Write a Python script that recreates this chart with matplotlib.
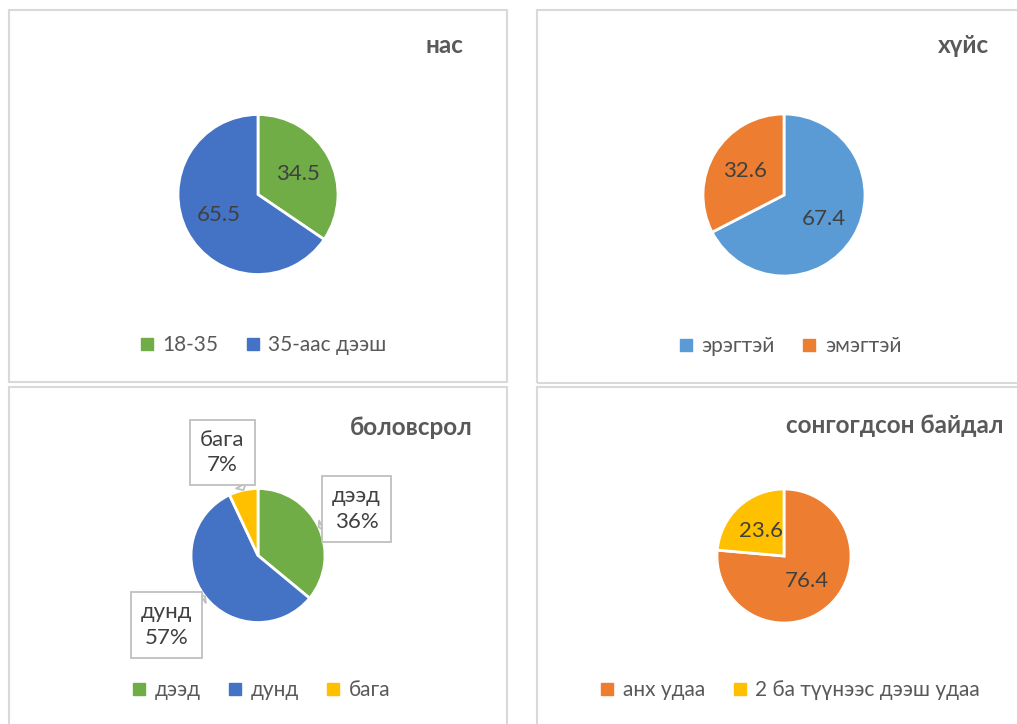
import numpy as np
import matplotlib.pyplot as plt
from matplotlib.lines import Line2D
from matplotlib.patches import Rectangle

plt.rcParams['font.family'] = ['Lato', 'DejaVu Sans']

# нас
age_labels = ['18-35', '35-аас дээш']
age_values = [34.5, 65.5]
# хүйс
sex_labels = ['эрэгтэй', 'эмэгтэй']
sex_values = [67.4, 32.6]
# боловсрол
edu_labels = ['дээд', 'дунд', 'бага']
edu_values = [36, 57, 7]
# сонгогдсон байдал
elect_labels = ['анх удаа', '2 ба түүнээс дээш удаа']
elect_values = [76.4, 23.6]

titles = ['нас', 'хүйс', 'боловсрол', 'сонгогдсон байдал']

GREEN, BLUE, LBLUE, ORANGE, GOLD = '#70AD47', '#4472C4', '#5B9BD5', '#ED7D31', '#FFC000'

W, H = 1017, 724
fig = plt.figure(figsize=(W / 100, H / 100), dpi=100)
ax = fig.add_axes([0, 0, 1, 1])

def Y(y):
    return H - y

# layout in image pixels
panels = [
    dict(labels=age_labels, values=age_values, colors=[GREEN, BLUE],
         box=(9, 10, 507, 382), center=(258, 194.5), r=80,
         title_xy=(463, 53), legend_xy=(263, 345), pctdist=0.56),
    dict(labels=sex_labels, values=sex_values, colors=[LBLUE, ORANGE],
         box=(537, 10, 1030, 383), center=(784, 195), r=81,
         title_xy=(989, 53), legend_xy=(790, 346), pctdist=0.57),
    dict(labels=edu_labels, values=edu_values, colors=[GREEN, BLUE, GOLD],
         box=(9, 387, 507, 740), center=(258, 555.5), r=67,
         title_xy=(473, 435), legend_xy=(261, 690), pctdist=None),
    dict(labels=elect_labels, values=elect_values, colors=[ORANGE, GOLD],
         box=(537, 387, 1030, 740), center=(784, 556), r=67,
         title_xy=(1003, 433), legend_xy=(790, 690), pctdist=0.5),
]

# callout box offsets for the education pie (in radius units)
callout_offsets = [(1.47, 0.69), (-1.37, -1.04), (-0.53, 1.54)]

for i, p in enumerate(panels):
    x0, y0, x1, y1 = p['box']
    ax.add_patch(Rectangle((x0, Y(y1)), x1 - x0, y1 - y0, fill=False,
                           ec='#D9D9D9', lw=1.5))
    cx, cy = p['center'][0], Y(p['center'][1])
    r = p['r']
    kw = dict(startangle=90, counterclock=False, center=(cx, cy), radius=r,
              colors=p['colors'], frame=True,
              wedgeprops=dict(edgecolor='white', linewidth=2))
    if p['pctdist'] is not None:
        wedges, texts, autotexts = ax.pie(p['values'], autopct=lambda v: f'{v:.1f}',
                                          pctdistance=p['pctdist'],
                                          textprops=dict(color='#404040', fontsize=16), **kw)
    else:
        wedges, texts = ax.pie(p['values'], **kw)
        total = sum(p['values'])
        for w, lab, val, (dx, dy) in zip(wedges, p['labels'], p['values'], callout_offsets):
            ang = np.deg2rad((w.theta1 + w.theta2) / 2)
            anchor = (cx + r * np.cos(ang), cy + r * np.sin(ang))
            ax.annotate(f'{lab}\n{round(val / total * 100)}%', xy=anchor,
                        xytext=(cx + dx * r, cy + dy * r), ha='center', va='center',
                        fontsize=16, color='#404040', linespacing=1.35,
                        bbox=dict(boxstyle='square,pad=0.45', fc='white', ec='#BFBFBF', lw=1.3),
                        arrowprops=dict(arrowstyle='wedge,tail_width=0.5', fc='white',
                                        ec='#BFBFBF', lw=1.3, shrinkA=0, shrinkB=0))
    tx, ty = p['title_xy']
    ax.text(tx, Y(ty), titles[i], ha='right', va='baseline', fontsize=17.5,
            fontweight='bold', color='#595959')
    handles = [Line2D([], [], marker='s', ls='', color=c, markersize=8) for c in p['colors']]
    lx, ly = p['legend_xy']
    fig.legend(handles, p['labels'], loc='center', bbox_to_anchor=(lx / W, 1 - ly / H),
               ncol=len(handles), frameon=False, fontsize=15, labelcolor='#595959',
               handlelength=0.7, handletextpad=0.4, columnspacing=1.3,
               borderaxespad=0, borderpad=0)

ax.set_xlim(0, W)
ax.set_ylim(0, H)
ax.set_aspect('auto')
ax.axis('off')

fig.savefig('out.png', dpi=100)
